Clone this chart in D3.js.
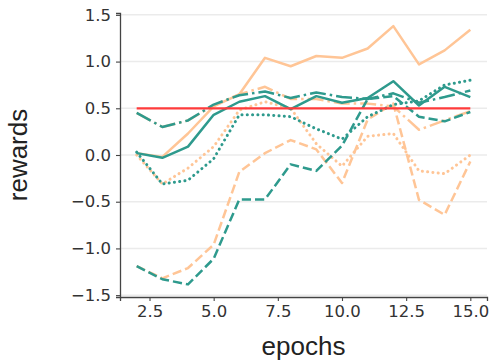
<!DOCTYPE html>
<html>
<head>
<meta charset="utf-8">
<script src="https://cdn.jsdelivr.net/npm/d3@7"></script>
<style>
  body { margin: 0; background: #fff; }
  svg { display: block; }
</style>
</head>
<body>
<svg id="chart" width="493" height="362"></svg>
<script>
// x values (epochs)
const epochs = [2, 3, 4, 5, 6, 7, 8, 9, 10, 11, 12, 13, 14, 15];

// teal runs
const tealSolid   = [0.02, -0.03, 0.09, 0.43, 0.57, 0.63, 0.49, 0.63, 0.56, 0.61, 0.79, 0.53, 0.73, 0.62];
const tealDashed  = [-1.19, -1.33, -1.385, -1.11, -0.475, -0.475, -0.10, -0.17, 0.10, 0.60, 0.63, 0.41, 0.36, 0.46];
const tealDotted  = [0.03, -0.31, -0.27, -0.04, 0.43, 0.43, 0.41, 0.28, 0.17, 0.41, 0.54, 0.58, 0.75, 0.80];
const tealDashDot = [0.45, 0.30, 0.37, 0.54, 0.64, 0.68, 0.61, 0.67, 0.62, 0.60, 0.66, 0.56, 0.62, 0.69];

// peach runs
const peachSolid   = [0.02, -0.02, 0.23, 0.52, 0.65, 1.04, 0.95, 1.06, 1.04, 1.14, 1.38, 0.97, 1.12, 1.34];
const peachDashed  = [-1.19, -1.32, -1.21, -0.96, -0.18, 0.02, 0.16, 0.06, -0.30, 0.38, 0.55, -0.48, -0.64, -0.07];
const peachDotted  = [0.00, -0.31, -0.14, 0.09, 0.48, 0.57, 0.50, 0.12, -0.12, 0.20, 0.23, -0.17, -0.20, 0.00];
const peachDashDot = [0.45, 0.30, 0.37, 0.53, 0.65, 0.73, 0.60, 0.60, 0.55, 0.55, 0.52, 0.27, 0.37, 0.47];

const threshold = 0.5;
const yTicks = [-1.5, -1.0, -0.5, 0.0, 0.5, 1.0, 1.5];
const xTicks = [2.5, 5.0, 7.5, 10.0, 12.5, 15.0];

const teal = "#2e9a8d";
const peach = "#ffc596";

// line styles (matplotlib-like dash patterns, lw 2.5)
const dash = {
  solid: null,
  dashed: "9.2,4",
  dotted: "0.1,5.2",
  dashdot: "16,4,2.5,4"
};

const series = [
  { values: peachSolid, color: peach, style: "solid" },
  { values: peachDashed, color: peach, style: "dashed" },
  { values: peachDotted, color: peach, style: "dotted" },
  { values: peachDashDot, color: peach, style: "dashdot" },
  { values: tealSolid, color: teal, style: "solid" },
  { values: tealDashed, color: teal, style: "dashed" },
  { values: tealDotted, color: teal, style: "dotted" },
  { values: tealDashDot, color: teal, style: "dashdot" }
];

const margin = { top: 13, right: 6, bottom: 65, left: 120 };
const width = 493 - margin.left - margin.right;
const height = 362 - margin.top - margin.bottom;

const svg = d3.select("#chart")
  .append("g")
  .attr("transform", `translate(${margin.left},${margin.top})`);

const x = d3.scaleLinear().domain([1.35, 15.65]).range([0, width]);
const y = d3.scaleLinear().domain([-1.52, 1.52]).range([height, 0]);

// grid
svg.append("g")
  .selectAll("line")
  .data(yTicks)
  .join("line")
  .attr("x1", 0)
  .attr("x2", width)
  .attr("y1", d => y(d))
  .attr("y2", d => y(d))
  .style("stroke", "#ebebeb")
  .style("stroke-width", 1.5);

const line = d3.line()
  .x((d, i) => x(epochs[i]))
  .y(d => y(d));

svg.append("g")
  .selectAll("path")
  .data(series)
  .join("path")
  .attr("d", d => line(d.values))
  .style("fill", "none")
  .style("stroke", d => d.color)
  .style("stroke-width", d => d.style == "dotted" ? 3 : 2.5)
  .style("stroke-dasharray", d => dash[d.style])
  .style("stroke-linecap", d => d.style == "dotted" ? "round" : "butt")
  .style("stroke-linejoin", "round");

// threshold line
svg.append("line")
  .attr("x1", x(epochs[0]))
  .attr("x2", x(epochs[epochs.length - 1]))
  .attr("y1", y(threshold))
  .attr("y2", y(threshold))
  .style("stroke", "#ff3b3b")
  .style("stroke-width", 2.2);

// axes
const xAxis = svg.append("g")
  .attr("transform", `translate(0,${height})`)
  .call(d3.axisBottom(x).tickValues(xTicks).tickFormat(d3.format(".1f")).tickSizeOuter(0).tickSize(4).tickPadding(4));

const yAxis = svg.append("g")
  .call(d3.axisLeft(y).tickValues(yTicks).tickFormat(d => d3.format(".1f")(d).replace("-", "\u2212")).tickSizeOuter(0).tickSize(4).tickPadding(5));

[xAxis, yAxis].forEach(a => {
  a.select(".domain").style("stroke", "#444").style("stroke-width", 1.3);
  a.selectAll(".tick line").style("stroke", "#444").style("stroke-width", 1.1);
  a.selectAll("text")
    .style("font-family", "'DejaVu Sans', sans-serif")
    .style("font-size", "16.5px")
    .style("fill", "#333");
});

// axis labels
svg.append("text")
  .attr("x", width / 2)
  .attr("y", height + 58)
  .attr("text-anchor", "middle")
  .style("font-family", "'Liberation Sans', Arial, sans-serif")
  .style("font-size", "26px")
  .style("fill", "#222")
  .text("epochs");

svg.append("text")
  .attr("transform", `translate(${-93},${height / 2}) rotate(-90)`)
  .attr("text-anchor", "middle")
  .style("font-family", "'Liberation Sans', Arial, sans-serif")
  .style("font-size", "26px")
  .style("fill", "#222")
  .text("rewards");
</script>
</body>
</html>
